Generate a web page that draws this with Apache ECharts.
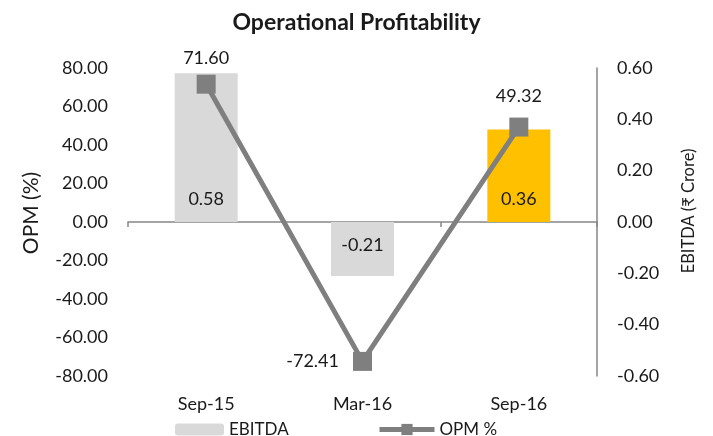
<!DOCTYPE html>
<html>
<head>
<meta charset="utf-8">
<script src="https://cdn.jsdelivr.net/npm/echarts@6/dist/echarts.min.js"></script>
<style>
html,body{margin:0;padding:0;background:#fff;}
#c{width:713px;height:436px;}
</style>
</head>
<body>
<div id="c"></div>
<script>
const categories = ['Sep-15', 'Mar-16', 'Sep-16'];
const ebitda = [0.58, -0.21, 0.36];
const opm = [71.60, -72.41, 49.32];
const leftTicks = { min: -80, max: 80, interval: 20 };
const rightTicks = { min: -0.6, max: 0.6, interval: 0.2 };

const FONT = 'Lato, "Open Sans", sans-serif';
const TXT = '#1a1a1a';
const FS = 18;

const chart = echarts.init(document.getElementById('c'));

const barColors = ['#d9d9d9', '#d9d9d9', '#ffc000'];
const barData = ebitda.map((v, i) => ({
  value: v,
  itemStyle: { color: barColors[i] },
  label: v >= 0 ? { position: 'insideBottom', distance: 14 } : { position: 'insideTop', distance: 14 }
}));
const lineLabelCfg = [
  { position: 'top', distance: 7 },
  { position: 'left', distance: 14 },
  { position: 'top', distance: 12 }
];
const lineData = opm.map((v, i) => ({ value: v, label: lineLabelCfg[i] }));

chart.setOption({
  animation: false,
  textStyle: { fontFamily: FONT, color: TXT },
  title: {
    text: 'Operational Profitability',
    left: 'center',
    top: 6,
    textStyle: { fontFamily: FONT, fontSize: 23, fontWeight: 'bold', color: TXT }
  },
  grid: { left: 128, right: 116, top: 68, bottom: 60 },
  legend: [
    {
      data: ['EBITDA'],
      left: 175, top: 421, padding: 0,
      itemWidth: 49, itemHeight: 12,
      textStyle: { fontFamily: FONT, fontSize: 17, color: TXT }
    },
    {
      data: ['OPM %'],
      left: 377, top: 421, padding: 0,
      itemWidth: 55, itemHeight: 14,
      itemGap: 0,
      lineStyle: { width: 5 },
      textStyle: { fontFamily: FONT, fontSize: 17, color: TXT }
    }
  ],
  xAxis: [
    {
      type: 'category',
      data: categories,
      position: 'bottom',
      axisLine: { show: false },
      axisTick: { show: false },
      axisLabel: { fontSize: FS, color: TXT, margin: 19, fontFamily: FONT }
    },
    {
      type: 'category',
      data: categories,
      position: 'bottom',
      axisLine: { show: true, onZero: true, onZeroAxisIndex: 0, lineStyle: { color: '#868686', width: 1.5 } },
      axisTick: { show: true, length: 5, lineStyle: { color: '#868686', width: 1.5 } },
      axisLabel: { show: false },
      splitLine: { show: false }
    }
  ],
  yAxis: [
    {
      type: 'value',
      min: leftTicks.min, max: leftTicks.max, interval: leftTicks.interval,
      name: 'OPM (%)',
      nameLocation: 'middle',
      nameGap: 86,
      nameRotate: 90,
      nameTextStyle: { fontSize: 21, color: TXT, fontFamily: FONT, padding: [0, 0, 0, 18] },
      axisLine: { show: false },
      axisTick: { show: false },
      splitLine: { show: false },
      axisLabel: { fontSize: FS, color: TXT, margin: 20, fontFamily: FONT, formatter: v => v.toFixed(2) }
    },
    {
      type: 'value',
      min: rightTicks.min, max: rightTicks.max, interval: rightTicks.interval,
      position: 'right',
      name: 'EBITDA (₹ Crore)',
      nameLocation: 'middle',
      nameGap: 83,
      nameRotate: 90,
      nameTextStyle: { fontSize: 16.5, color: TXT, fontFamily: FONT, padding: [0, 0, 0, 22] },
      axisLine: { show: true, onZero: false, lineStyle: { color: '#868686', width: 1.5 } },
      axisTick: { show: false },
      splitLine: { show: false },
      axisLabel: { fontSize: FS, color: TXT, margin: 20, fontFamily: FONT, formatter: v => v.toFixed(2) }
    }
  ],
  series: [
    {
      name: 'EBITDA',
      type: 'bar',
      xAxisIndex: 0,
      yAxisIndex: 1,
      barWidth: 63,
      itemStyle: { color: '#d9d9d9' },
      label: { show: true, fontSize: FS, color: TXT, fontFamily: FONT, formatter: p => p.value.toFixed(2) },
      data: barData
    },
    {
      name: 'OPM %',
      type: 'line',
      xAxisIndex: 0,
      yAxisIndex: 0,
      symbol: 'rect',
      symbolSize: 19,
      lineStyle: { color: '#7f7f7f', width: 5 },
      itemStyle: { color: '#7f7f7f' },
      label: { show: true, fontSize: FS, color: TXT, fontFamily: FONT, formatter: p => p.value.toFixed(2) },
      data: lineData,
      z: 5
    }
  ]
});
</script>
</body>
</html>
